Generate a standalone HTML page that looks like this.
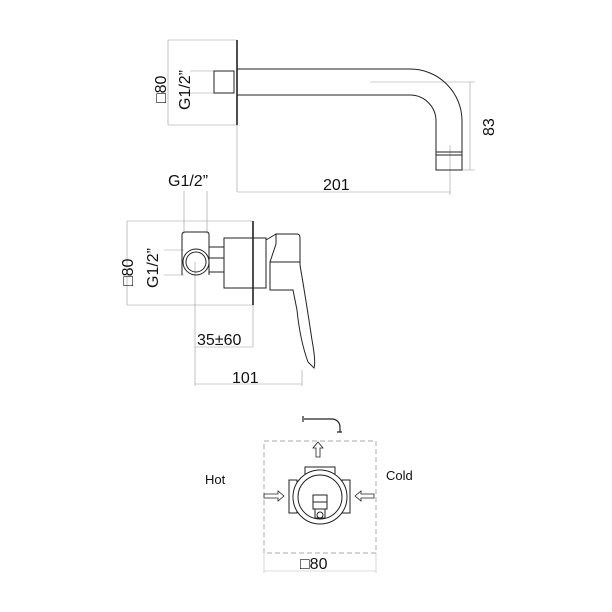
<!DOCTYPE html><html><head><style>body{margin:0;background:#fff}svg{display:block}text{font-family:"Liberation Sans",sans-serif;fill:#111;stroke:none}</style></head><body>
<svg width="612" height="612" viewBox="0 0 612 612" fill="none" stroke="#222" stroke-width="1">
<!-- top spout -->
<g stroke="#999" stroke-width="0.6">
<path d="M168 40H237M168 125H237M168 40V125M190 71H214M190 93H214M237 125V192M237 192H450M450 145V195M370 82H475M455 170H475M470 82V170"/>
</g>
<path d="M237 40V125" stroke-width="1.6"/>
<rect x="214" y="71" width="20" height="22"/>
<path d="M237 69H410A52 52 0 0 1 462 121V170H436V121A26 26 0 0 0 410 95H237"/>
<path d="M436 152H462M436 155H462"/>
<text x="0" y="0" font-size="16" transform="translate(166,103) rotate(-90)">□80</text>
<text x="0" y="0" font-size="16" transform="translate(190,110) rotate(-90)">G1/2”</text>
<text x="0" y="0" font-size="16" transform="translate(494,136) rotate(-90)">83</text>
<text x="323" y="190" font-size="16">201</text>
<!-- middle valve -->
<text x="168" y="186" font-size="16">G1/2”</text>
<g stroke="#999" stroke-width="0.6">
<path d="M184 191V234M207 191V234M127 221H253M127 305H253M127 221V305M164 250H184M164 275H184M195 262V386M195 347H253M253 305V347M195 384H302M302 370V386M270 262H300"/>
</g>
<path d="M253 221V305" stroke-width="1.6"/>
<path d="M182 275V235Q182 232 185 232H207Q209 232 209 235V275"/>
<circle cx="196" cy="262" r="13"/><circle cx="196" cy="262" r="10"/>
<rect x="209" y="247" width="15" height="25"/><path d="M209 258H224"/>
<rect x="224" y="238" width="42" height="50"/>
<path d="M276 234H297Q300 234 300 238V265Q306 300 312 340Q316 362 314 368L308 362Q300 340 297 310L293 290H270V262L276 244Z"/>
<path d="M266 240L276 234M270 262H300"/>
<text x="0" y="0" font-size="16" transform="translate(133,286) rotate(-90)">□80</text>
<text x="0" y="0" font-size="16" transform="translate(158,288) rotate(-90)">G1/2”</text>
<text x="197" y="345" font-size="16">35±60</text>
<text x="232" y="383" font-size="16">101</text>
<!-- bottom scheme -->
<rect x="264" y="441" width="112" height="112" stroke="#aaa" stroke-dasharray="5,3"/>
<path d="M264 553V573M376 553V573M264 571H376" stroke="#bbb" stroke-width="0.6"/>
<text x="300" y="569" font-size="16">□80</text>
<text x="205" y="484" font-size="13">Hot</text>
<text x="386" y="480" font-size="13">Cold</text>
<path d="M303 416V422M304 419H332A8 8 0 0 1 340 427V432M337 432H342" stroke-width="1.2"/>
<path d="M316 457V448H313L318 442L323 448H320V457Z" stroke-width="0.8"/>
<path d="M264 494H278V491L284 496L278 501V498H264Z" stroke-width="0.8"/>
<path d="M374 494H361V491L355 496L361 501V498H374Z" stroke-width="0.8"/>
<rect x="305" y="467" width="30" height="8"/>
<rect x="289" y="480" width="8" height="33"/><rect x="342" y="480" width="8" height="33"/>
<circle cx="320" cy="497" r="27" fill="#fff"/><circle cx="320" cy="497" r="22"/>
<rect x="313" y="495" width="14" height="14"/><path d="M313 502H327M315 509V518H325V509"/>
<circle cx="320" cy="515" r="3"/>
</svg></body></html>
